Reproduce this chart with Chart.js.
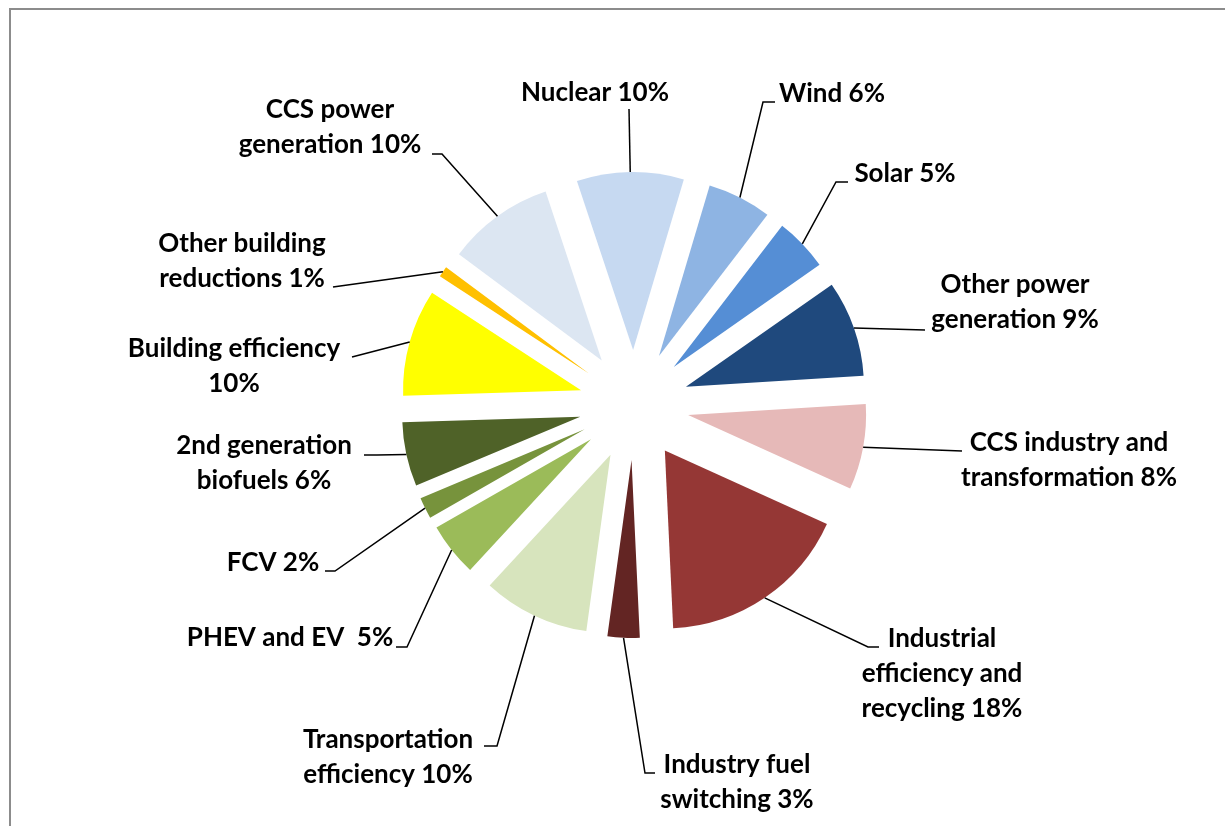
<!DOCTYPE html>
<html>
<head>
<meta charset="utf-8">
<script src="https://cdn.jsdelivr.net/npm/chart.js@4.4.1/dist/chart.umd.min.js"></script>
<style>
  html, body { margin: 0; padding: 0; background: #fff; }
  canvas { display: block; }
</style>
</head>
<body>
<canvas id="abatementPie" width="1225" height="826"></canvas>
<script>
// categories in drawing order (clockwise from the top), "\n" marks label line breaks
const categories = [
	"Nuclear", "Wind", "Solar", "Other power\ngeneration", "CCS industry and\ntransformation",
	"Industrial\nefficiency and\nrecycling", "Industry fuel\nswitching", "Transportation\nefficiency",
	"PHEV and EV ", "FCV", "2nd generation\nbiofuels", "Building efficiency\n",
	"Other building\nreductions", "CCS power\ngeneration"
];
const shares = [10, 6, 5, 9, 8, 18, 3, 10, 5, 2, 6, 10, 1, 10];
const sliceColors = [
	"#C6D9F1", "#8EB4E3", "#558ED5", "#1F497D", "#E6B9B8",
	"#953735", "#632523", "#D7E4BD", "#9BBB59", "#77933C",
	"#4F6228", "#FFFF00", "#FFC000", "#DCE6F2"
];

// hand placed data labels: [text centre x, first baseline y, elbow x, elbow y, tick end x]
const labelLayout = [
	[595, 101, 629, 109, null],
	[832, 102, 763, 102, 775],
	[905, 182, 836, 182, 848],
	[1015, 293, 925, 330, null],
	[1069, 451, 962, 451, null],
	[942, 647, 868, 647, 879],
	[737, 773, 645, 773, 655],
	[388, 748, 497, 746, 484],
	[290, 646, 407, 647, 396],
	[273, 571, 335, 571, 325],
	[264, 454, 377, 455, 364],
	[234, 357, 352, 357, null],
	[242, 252, 333, 287, null],
	[330, 118, 442, 154, 432]
];

const explodeOffset = 55;
const labelFont = "bold 26px Lato, 'Open Sans', sans-serif";
const lineHeight = 35;

// push every slice out along its own bisector (same distance for all)
const explodePlugin = {
	id: "explode",
	beforeDatasetsDraw(chart) {
		const area = chart.chartArea;
		const cx = (area.left + area.right) / 2;
		const cy = (area.top + area.bottom) / 2;
		chart.getDatasetMeta(0).data.forEach(arc => {
			const mid = (arc.startAngle + arc.endAngle) / 2;
			arc.x = cx + Math.cos(mid) * explodeOffset;
			arc.y = cy + Math.sin(mid) * explodeOffset;
		});
	}
};

const framePlugin = {
	id: "frame",
	beforeDraw(chart) {
		const ctx = chart.ctx;
		ctx.save();
		ctx.fillStyle = "#fff";
		ctx.fillRect(0, 0, chart.width, chart.height);
		ctx.strokeStyle = "#8c8c8c";
		ctx.lineWidth = 2;
		ctx.beginPath();
		ctx.moveTo(10, chart.height);
		ctx.lineTo(10, 9);
		ctx.lineTo(chart.width, 9);
		ctx.stroke();
		ctx.restore();
	}
};

const leaderLabelPlugin = {
	id: "leaderLabels",
	afterDatasetsDraw(chart) {
		const ctx = chart.ctx;
		const meta = chart.getDatasetMeta(0);
		ctx.save();
		ctx.strokeStyle = "#000";
		ctx.lineWidth = 1.5;
		ctx.fillStyle = "#000";
		ctx.font = labelFont;
		ctx.textAlign = "center";
		ctx.textBaseline = "alphabetic";
		meta.data.forEach((arc, i) => {
			const [tx, ty, ex, ey, tickX] = labelLayout[i];
			const mid = (arc.startAngle + arc.endAngle) / 2;
			const sx = arc.x + Math.cos(mid) * arc.outerRadius;
			const sy = arc.y + Math.sin(mid) * arc.outerRadius;
			ctx.beginPath();
			ctx.moveTo(sx, sy);
			ctx.lineTo(ex, ey);
			if (tickX !== null) ctx.lineTo(tickX, ey);
			ctx.stroke();
			const text = categories[i] + " " + shares[i] + "%";
			text.split("\n").forEach((line, k) => {
				ctx.fillText(line.trim(), tx, ty + k * lineHeight);
			});
		});
		ctx.restore();
	}
};

new Chart(document.getElementById("abatementPie"), {
	type: "pie",
	data: {
		labels: categories.map(c => c.replace(/\n/g, " ").trim()),
		datasets: [
			{
				data: shares,
				backgroundColor: sliceColors,
				borderWidth: 0
			}
		]
	},
	options: {
		responsive: false,
		animation: false,
		rotation: -18.4,
		radius: 178,
		layout: {
			padding: { left: 43, right: 0, top: 0, bottom: 16 }
		},
		plugins: {
			legend: { display: false },
			tooltip: { enabled: false }
		}
	},
	plugins: [framePlugin, explodePlugin, leaderLabelPlugin]
});
</script>
</body>
</html>
